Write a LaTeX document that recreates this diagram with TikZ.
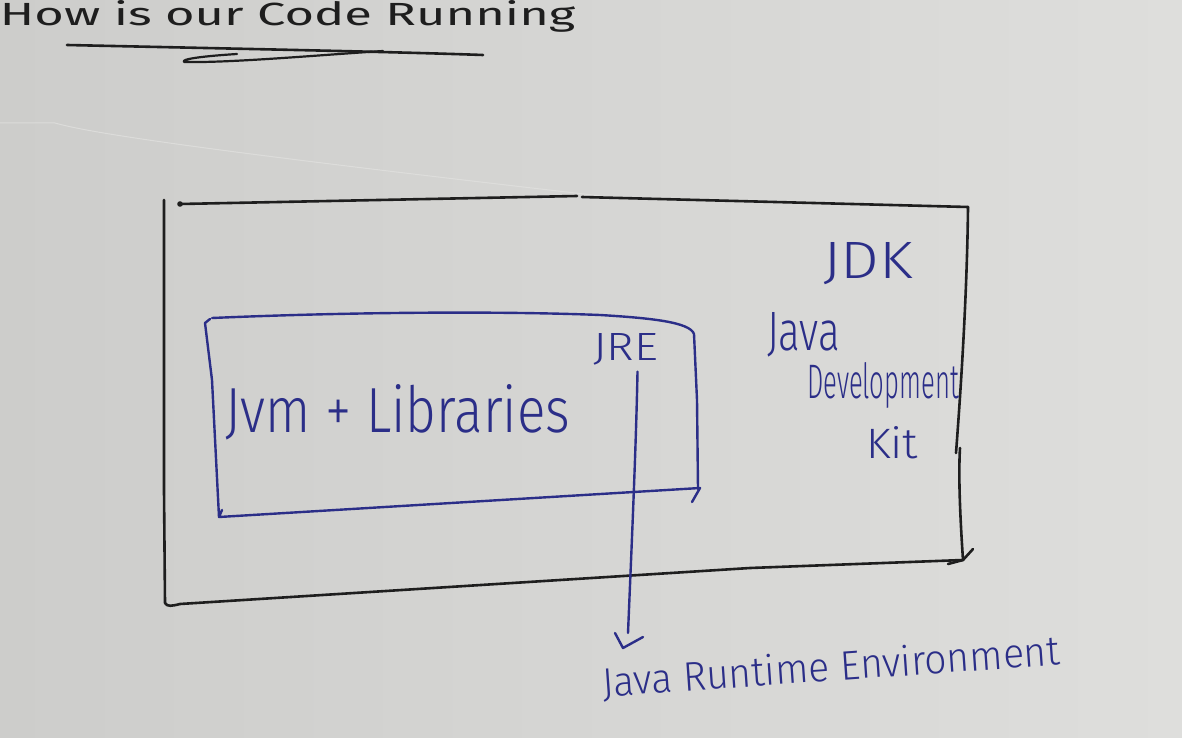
\documentclass[tikz,border=0pt]{standalone}
\usepackage{fontspec}
\usepackage{graphicx}
\newfontfamily\hand{Fira Sans Light}
\newfontfamily\handbold{Fira Sans}
\usetikzlibrary{calc}

\definecolor{paperdark}{HTML}{CDCDCB}
\definecolor{paperlight}{HTML}{DEDEDC}
\definecolor{foldedge}{HTML}{E2E2E0}
\definecolor{blueink}{HTML}{2B2E88}
\definecolor{blackink}{HTML}{1E1E1E}

\tikzset{
  blackpen/.style={draw=blackink, line width=2.6pt, line cap=round, line join=round},
  bluepen/.style={draw=blueink, line width=2.4pt, line cap=round, line join=round},
  handtext/.style={inner sep=0pt, outer sep=0pt, font=\hand, anchor=base west},
  bluetext/.style={handtext, text=blueink},
  blacktext/.style={handtext, text=blackink, font=\handbold},
}
% stretch a word to a given width and height (in pt)
\newcommand{\fitword}[3]{\resizebox{#1pt}{#2pt}{#3}}

\begin{document}
\begin{tikzpicture}[x=1pt,y=-1pt]
\useasboundingbox (0,0) rectangle (1182,738);

% paper
\shade[left color=paperdark, right color=paperlight] (0,0) rectangle (1182,738);
\draw[foldedge, line width=1pt, opacity=0.7] (0,123) -- (55,123) .. controls (90,133) and (200,150) .. (610,197);

% heading and its underline
\node[blacktext] (title) at (0,26) {\fitword{575}{25}{How is our Code Running}};
\draw[blackpen] (67,45) .. controls (250,49) and (400,52) .. (483,55);
\draw[blackpen, line width=2.2pt] (237,54) .. controls (205,56) and (180,59) .. (184,62)
      .. controls (230,63) and (320,55) .. (383,51);

% JDK box (black)
\fill[blackink] (180,204) circle (2.8);
\draw[blackpen] (180,204) -- (577,196);
\draw[blackpen] (582,197) -- (968,207);
\draw[blackpen] (968,207) .. controls (967,300) and (960,400) .. (956,453);
\draw[blackpen] (960,448) .. controls (958,480) and (961,530) .. (963,560) -- (948,564);
\draw[blackpen] (164,200) -- (164,490) -- (165,603)
      .. controls (167,607) and (172,606) .. (180,604)
      -- (750,568) -- (963,560) -- (973,549);

% JRE box (blue)
\draw[bluepen] (212,318) .. controls (350,312) and (500,311) .. (600,315)
      .. controls (650,318) and (690,322) .. (694,334) -- (697,400) -- (698,489);
\draw[bluepen] (692,502) -- (700,488) -- (219,517) -- (222,510);
\draw[bluepen] (210,319) -- (205,323) -- (212,380) -- (219,517);

% labels
\node[bluetext] (jvm) at (225,432) {\fitword{345}{48}{Jvm + Libraries}};
\node[bluetext] (jre) at (593,360) {\fitword{65}{27}{JRE}};
\node[bluetext] (jdk) at (823,278) {\fitword{90}{36}{JDK}};
\node[bluetext] (java) at (767,350) {\fitword{73}{38}{Java}};
\node[bluetext] (development) at (807,398) {\fitword{152}{36}{Development}};
\node[bluetext] (kit) at (866,458) {\fitword{52}{32}{Kit}};
\node[bluetext, rotate=4] (jrefull) at (603,697) {\fitword{459}{31}{Java Runtime Environment}};

% arrow from the JRE box to its full name
\coordinate (jredrop) at ($(jre.south)+(12,7)$);
\coordinate (jrepoint) at (628,633);
\draw[bluepen] (jredrop) .. controls (636,450) and (631,560) .. (jrepoint);
\draw[bluepen] ([shift={(-13,0)}]jrepoint) -- ([shift={(-5,15)}]jrepoint) -- ([shift={(15,4)}]jrepoint);

\end{tikzpicture}
\end{document}
